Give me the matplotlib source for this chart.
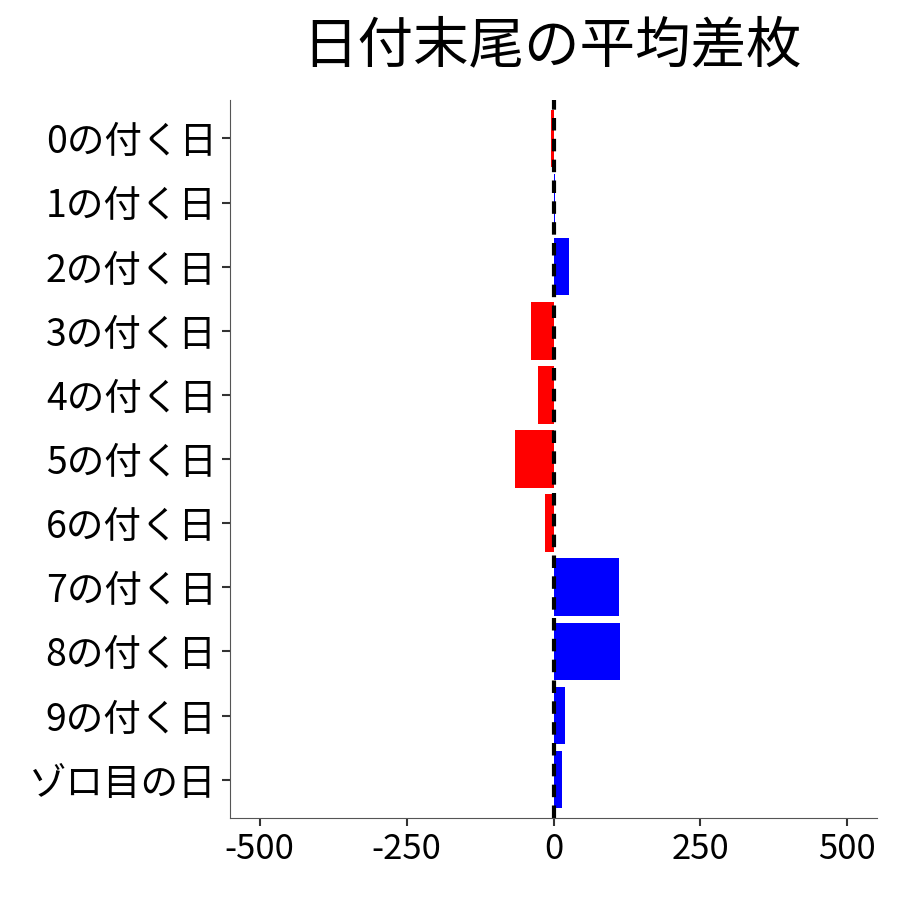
import matplotlib
matplotlib.use("Agg")
import matplotlib.pyplot as plt

plt.rcParams['font.family'] = ['Noto Sans CJK JP', 'DejaVu Sans']

categories = ["0の付く日","1の付く日","2の付く日","3の付く日","4の付く日","5の付く日",
              "6の付く日","7の付く日","8の付く日","9の付く日","ゾロ目の日"]
values = [-5, 3, 27, -39, -27, -66, -15, 112, 114, 19, 14]
xticks = [-500, -250, 0, 250, 500]

fig = plt.figure(figsize=(9, 9), dpi=100)
ax = fig.add_axes([0.256, 0.091, 0.718, 0.798])
ypos = list(range(len(categories)))[::-1]
colors = ['blue' if v > 0 else 'red' for v in values]
ax.barh(ypos, values, height=0.9, color=colors)
ax.axvline(0, color='black', linestyle=(0, (3, 2)), linewidth=3)
ax.set_yticks(ypos)
ax.set_yticklabels(categories, fontsize=27)
ax.set_xticks(xticks)
ax.set_xticklabels([str(t) for t in xticks], fontsize=25)
ax.set_xlim(-550, 550)
ax.set_ylim(-0.6, 10.6)
for s in ['top', 'right']:
    ax.spines[s].set_visible(False)
for s in ['left', 'bottom']:
    ax.spines[s].set_color('#555555')
ax.tick_params(axis='both', length=6, width=1.5, color='#333333', pad=4)
fig.suptitle("日付末尾の平均差枚", fontsize=40, x=0.613, y=0.98)
fig.savefig("out.png")
